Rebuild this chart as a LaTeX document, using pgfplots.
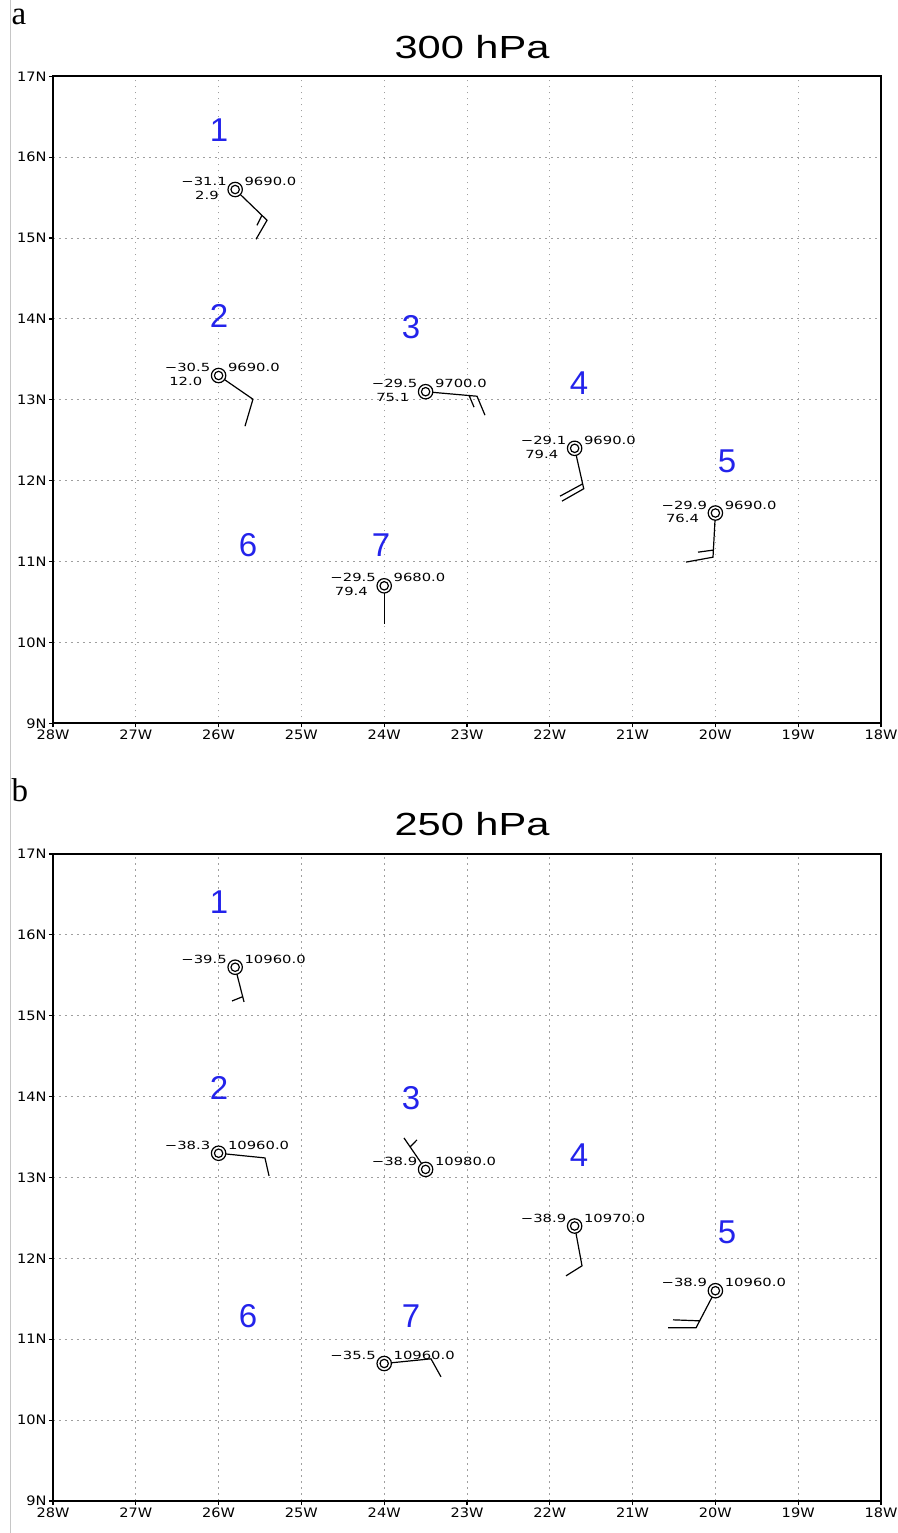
\documentclass[border=0pt]{standalone}
\usepackage{fontspec}
\usepackage{pgfplots}
\pgfplotsset{compat=1.18}
\setmainfont{Liberation Serif}
\newfontfamily\stnfont[FakeStretch=1.32]{DejaVu Sans}
\newfontfamily\tickfont[FakeStretch=1.12]{DejaVu Sans}
\newfontfamily\titlefont[FakeStretch=1.3]{Liberation Sans}
\newfontfamily\numfont{Liberation Sans}
\definecolor{stnblue}{RGB}{35,35,235}

\pgfplotsset{
  gradsmap/.style={
    width=414pt, height=323.5pt, scale only axis,
    xmin=-28, xmax=-18, ymin=9, ymax=17,
    xtick={-28,...,-18}, ytick={9,...,17},
    xticklabels={28W,27W,26W,25W,24W,23W,22W,21W,20W,19W,18W},
    yticklabels={9N,10N,11N,12N,13N,14N,15N,16N,17N},
    tick label style={font=\tickfont\fontsize{6.5pt}{7pt}\selectfont, inner sep=1pt},
    xtick pos=left, ytick pos=left,
    tick align=outside, major tick length=2pt,
    tick style={black, line width=0.6pt},
    grid=major,
    major grid style={gray!75, dash pattern=on 0.8pt off 2.2pt, line width=0.5pt},
    axis line style={black, line width=1pt},
    unbounded coords=jump,
    title style={font=\titlefont\fontsize{16pt}{18pt}\selectfont,
      at={(0.5,1)}, anchor=base, yshift=3pt, xshift=2.5pt, inner sep=0pt},
  },
  barb/.style={black, line width=0.6pt, no markers},
}
\tikzset{
  stn/.style={font=\stnfont\fontsize{5.6pt}{6.5pt}\selectfont, inner sep=0pt},
  num/.style={font=\numfont\fontsize{16.5pt}{18pt}\selectfont, text=stnblue, inner sep=0pt},
}

% station circle (double ring)
\newcommand\stations[1]{%
  \addplot[only marks, mark=*, mark size=3.6pt,
    mark options={fill=white, draw=black, line width=0.6pt}] coordinates {#1};
  \addplot[only marks, mark=o, mark size=2.1pt,
    mark options={draw=black, line width=0.6pt}] coordinates {#1};
}
% temperature (upper left), height (upper right), third field (lower left)
\newcommand\stnlabels[5]{%
  \node[stn, anchor=base east, xshift=-4pt, yshift=2pt] at (axis cs:#1,#2) {#3};
  \node[stn, anchor=base west, xshift=4.5pt, yshift=2pt] at (axis cs:#1,#2) {#4};
  \node[stn, anchor=north east, xshift=-8pt, yshift=-0.5pt] at (axis cs:#1,#2) {#5};
}

\begin{document}
\begin{tikzpicture}
\path[use as bounding box] (0,0) rectangle (449pt,766.5pt);
\draw[gray!45, line width=0.5pt] (5pt,0) -- (5pt,766.5pt);

\node[anchor=base west, font=\fontsize{16.5pt}{18pt}\selectfont, inner sep=0pt] at (5.6pt,754pt) {a};
\node[anchor=base west, font=\fontsize{16.5pt}{18pt}\selectfont, inner sep=0pt] at (5.6pt,365.5pt) {b};

% ---------------- 300 hPa ----------------
\begin{axis}[gradsmap, at={(26.5pt,404.85pt)}, anchor=south west, title={300 hPa}]
  % wind barbs
  \addplot[barb] coordinates {(-25.8,15.6) (-25.415,15.220) (-25.548,14.985) (nan,nan) (-25.476,15.282) (-25.536,15.158)};
  \addplot[barb] coordinates {(-26.0,13.3) (-25.585,13.007) (-25.681,12.674)};
  \addplot[barb] coordinates {(-23.5,13.1) (-22.879,13.044) (-22.783,12.810) (nan,nan) (-22.976,13.057) (-22.915,12.909)};
  \addplot[barb] coordinates {(-21.7,12.4) (-21.590,11.900) (-21.853,11.747) (nan,nan) (-21.609,11.957) (-21.877,11.808)};
  \addplot[barb] coordinates {(-20.0,11.6) (-20.029,11.054) (-20.355,10.993) (nan,nan) (-20.029,11.141) (-20.210,11.116)};
  \addplot[barb] coordinates {(-24.0,10.7) (-24.0,10.226)};
  \stations{(-25.8,15.6) (-26.0,13.3) (-23.5,13.1) (-21.7,12.4) (-20.0,11.6) (-24.0,10.7)}
  \stnlabels{-25.8}{15.6}{−31.1}{9690.0}{2.9}
  \stnlabels{-26.0}{13.3}{−30.5}{9690.0}{12.0}
  \stnlabels{-23.5}{13.1}{−29.5}{9700.0}{75.1}
  \stnlabels{-21.7}{12.4}{−29.1}{9690.0}{79.4}
  \stnlabels{-20.0}{11.6}{−29.9}{9690.0}{76.4}
  \stnlabels{-24.0}{10.7}{−29.5}{9680.0}{79.4}
  % site numbers
  \node[num] at (axis cs:-25.995,16.333) {1};
  \node[num] at (axis cs:-25.995,14.033) {2};
  \node[num] at (axis cs:-23.676,13.897) {3};
  \node[num] at (axis cs:-21.647,13.205) {4};
  \node[num] at (axis cs:-19.860,12.241) {5};
  \node[num] at (axis cs:-25.645,11.203) {6};
  \node[num] at (axis cs:-24.039,11.203) {7};
\end{axis}

% ---------------- 250 hPa ----------------
\begin{axis}[gradsmap, at={(26.5pt,16pt)}, anchor=south west, title={250 hPa}]
  \addplot[barb] coordinates {(-25.8,15.6) (-25.693,15.171) (nan,nan) (-25.717,15.232) (-25.838,15.183)};
  \addplot[barb] coordinates {(-26.0,13.3) (-25.440,13.242) (-25.391,13.020)};
  \addplot[barb] coordinates {(-23.5,13.1) (-23.761,13.489) (nan,nan) (-23.688,13.378) (-23.604,13.465)};
  \addplot[barb] coordinates {(-21.7,12.4) (-21.611,11.908) (-21.804,11.784)};
  \addplot[barb] coordinates {(-20.0,11.6) (-20.234,11.141) (-20.572,11.141) (nan,nan) (-20.198,11.228) (-20.512,11.240)};
  \addplot[barb] coordinates {(-24.0,10.7) (-23.435,10.758) (-23.314,10.535)};
  \stations{(-25.8,15.6) (-26.0,13.3) (-23.5,13.1) (-21.7,12.4) (-20.0,11.6) (-24.0,10.7)}
  \stnlabels{-25.8}{15.6}{−39.5}{10960.0}{}
  \stnlabels{-26.0}{13.3}{−38.3}{10960.0}{}
  \stnlabels{-23.5}{13.1}{−38.9}{10980.0}{}
  \stnlabels{-21.7}{12.4}{−38.9}{10970.0}{}
  \stnlabels{-20.0}{11.6}{−38.9}{10960.0}{}
  \stnlabels{-24.0}{10.7}{−35.5}{10960.0}{}
  \node[num] at (axis cs:-25.995,16.407) {1};
  \node[num] at (axis cs:-25.995,14.108) {2};
  \node[num] at (axis cs:-23.676,13.984) {3};
  \node[num] at (axis cs:-21.647,13.279) {4};
  \node[num] at (axis cs:-19.860,12.328) {5};
  \node[num] at (axis cs:-25.645,11.289) {6};
  \node[num] at (axis cs:-23.676,11.289) {7};
\end{axis}
\end{tikzpicture}
\end{document}
